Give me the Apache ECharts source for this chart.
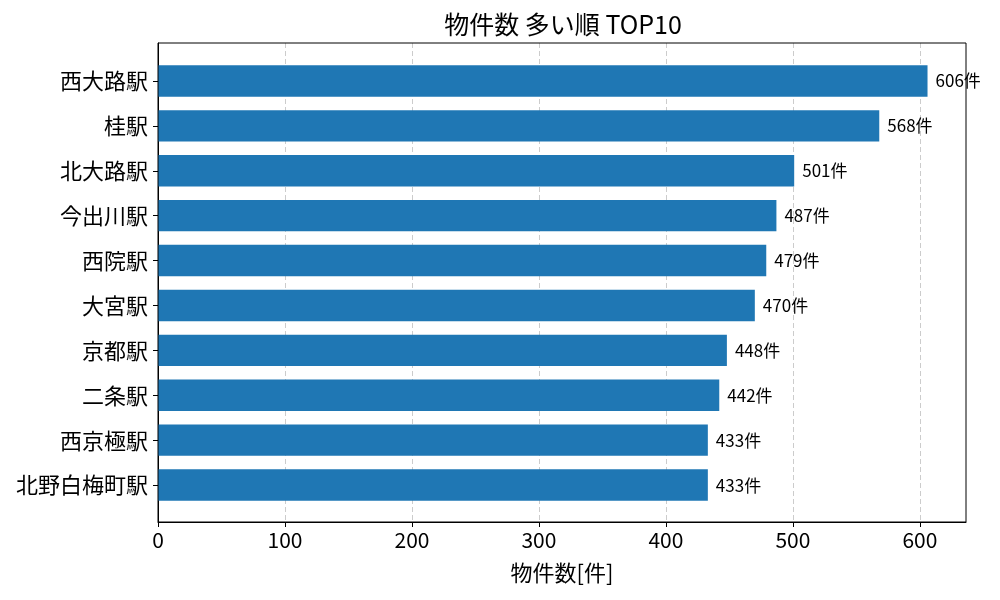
<!DOCTYPE html>
<html>
<head>
<meta charset="utf-8">
<script src="https://cdn.jsdelivr.net/npm/echarts@6/dist/echarts.min.js"></script>
<style>
  html, body { margin: 0; padding: 0; background: #fff; }
  #chartmain { width: 1000px; height: 600px; }
</style>
</head>
<body>
<div id="chartmain"></div>
<script>
// 駅名（上から多い順）
var stations = ['西大路駅', '桂駅', '北大路駅', '今出川駅', '西院駅', '大宮駅', '京都駅', '二条駅', '西京極駅', '北野白梅町駅'];
// 物件数
var counts = [606, 568, 501, 487, 479, 470, 448, 442, 433, 433];
var xMax = 636.3;

var font = '"Noto Sans CJK JP", "Noto Sans", sans-serif';
var myChart = echarts.init(document.getElementById('chartmain'));

var option = {
    animation: false,
    textStyle: { fontFamily: font },
    title: {
        text: '物件数 多い順 TOP10',
        left: 558,
        textAlign: 'center',
        top: 7,
        textStyle: { fontFamily: font, fontSize: 25, fontWeight: 'normal', color: '#000' }
    },
    grid: [
        // 枠と x 軸
        { left: 158, right: 34, top: 43, bottom: 78, show: true, borderColor: '#000', borderWidth: 1, backgroundColor: 'transparent', z: 10 },
        // 棒グラフ
        { left: 158, right: 34, top: 58.5, bottom: 92.5 }
    ],
    xAxis: [{
        gridIndex: 0,
        type: 'value',
        min: 0,
        max: xMax,
        interval: 100,
        name: '物件数[件]',
        nameLocation: 'middle',
        nameGap: 40,
        nameTextStyle: { fontFamily: font, fontSize: 22, color: '#000' },
        axisLine: { show: true, lineStyle: { color: '#000' } },
        axisTick: { show: true, length: 5, lineStyle: { color: '#000' } },
        axisLabel: {
            fontFamily: font, fontSize: 21, color: '#000', margin: 8,
            showMaxLabel: false
        },
        splitLine: {
            show: true, showMinLine: false, showMaxLine: false,
            lineStyle: { color: '#cccccc', type: [5, 3], width: 1 }
        }
    }, {
        gridIndex: 1,
        type: 'value',
        min: 0,
        max: xMax,
        show: false
    }],
    yAxis: [{
        gridIndex: 0,
        type: 'category',
        data: stations,
        axisLine: { show: true, lineStyle: { color: '#000' } },
        axisTick: { show: false },
        axisLabel: { show: false },
        splitLine: { show: false }
    }, {
        gridIndex: 1,
        type: 'category',
        inverse: true,
        data: stations,
        axisLine: { show: false },
        axisTick: { show: true, alignWithLabel: true, length: 5, lineStyle: { color: '#000' } },
        axisLabel: { fontFamily: font, fontSize: 22, color: '#000', margin: 10 },
        splitLine: { show: false }
    }],
    series: [{
        type: 'bar',
        xAxisIndex: 1,
        yAxisIndex: 1,
        data: counts,
        barWidth: '70%',
        itemStyle: { color: '#1f77b4' },
        label: {
            show: true,
            position: 'right',
            distance: 8,
            formatter: '{c}件',
            fontFamily: font,
            fontSize: 17,
            color: '#000'
        }
    }]
};

myChart.setOption(option);
</script>
</body>
</html>
